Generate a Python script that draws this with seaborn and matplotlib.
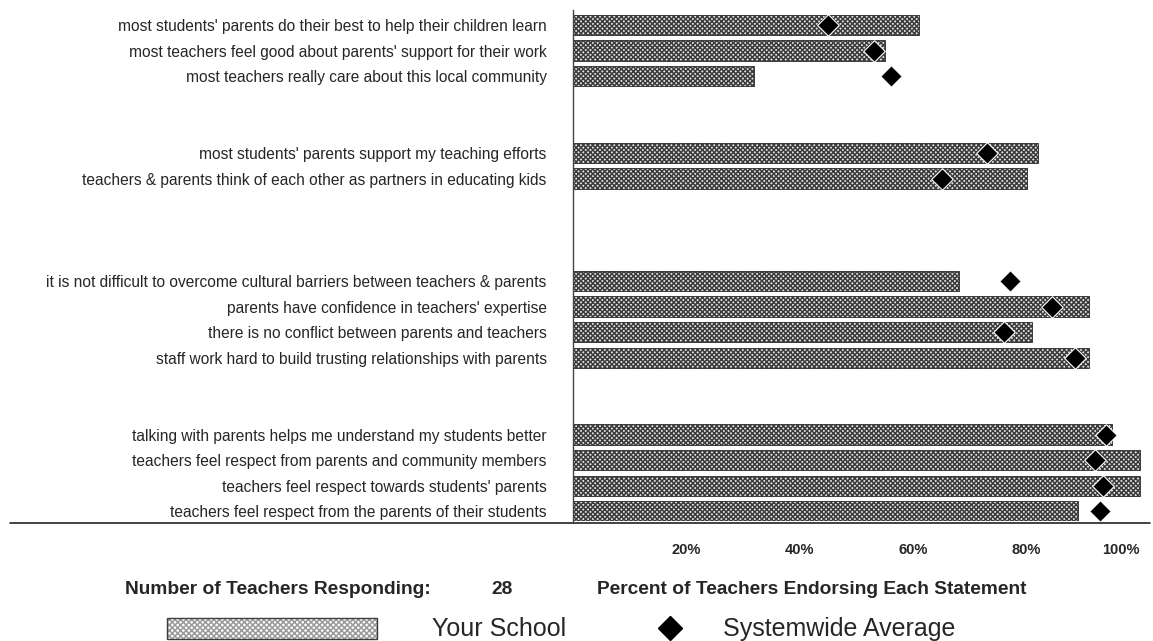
import matplotlib
matplotlib.use('Agg')
import matplotlib.pyplot as plt
from matplotlib.lines import Line2D
from matplotlib.patches import Rectangle
import matplotlib.transforms as mtransforms
import pandas as pd
import seaborn as sns

statements = [
    "most students' parents do their best to help their children learn",
    "most teachers feel good about parents' support for their work",
    "most teachers really care about this local community",
    "most students' parents support my teaching efforts",
    "teachers & parents think of each other as partners in educating kids",
    "it is not difficult to overcome cultural barriers between teachers & parents",
    "parents have confidence in teachers' expertise",
    "there is no conflict between parents and teachers",
    "staff work hard to build trusting relationships with parents",
    "talking with parents helps me understand my students better",
    "teachers feel respect from parents and community members",
    "teachers feel respect towards students' parents",
    "teachers feel respect from the parents of their students",
]
school_pct = [61, 55, 32, 82, 80, 68, 91, 81, 91, 95, 100, 100, 89]
system_pct = [45, 53, 56, 73, 65, 77, 84.5, 76, 88.5, 94, 92, 93.5, 93]
x_ticks = [20, 40, 60, 80, 100]
x_tick_labels = ['20%', '40%', '60%', '80%', '100%']
n_teachers = 28

# row slots (groups separated by blank rows)
slots = [0, 1, 2, 5, 6, 10, 11, 12, 13, 16, 17, 18, 19]

df = pd.DataFrame({'statement': statements, 'school': school_pct,
                   'system': system_pct, 'slot': slots})

sns.set_style('white')
plt.rcParams['font.family'] = ['Liberation Sans', 'DejaVu Sans']
plt.rcParams['hatch.linewidth'] = 1.1

W, H = 1153, 641
fig = plt.figure(figsize=(W / 100, H / 100), dpi=100)
ax = fig.add_axes([573 / W, 1 - 521 / H, (1150 - 573) / W, (521 - 10) / H])

sns.barplot(data=df, x='school', y='slot', orient='h', native_scale=True,
            color='#e6e6e6', width=0.8, ax=ax)
for p in ax.patches:
    p.set_hatch('xxxxxxx')
    p.set_edgecolor('#3c3c3c')
    p.set_linewidth(0.7)

sns.scatterplot(data=df, x='system', y='slot', marker='D', color='black',
                s=120, edgecolor='white', linewidth=0.8, ax=ax, zorder=5)

ax.set_xlim(0, 577 / 5.67)
ax.set_ylim((521 - 25) / 25.6, (10 - 25) / 25.6)
ax.set_yticks(slots)
ax.set_yticklabels(statements, fontsize=11.2)
ax.set_xticks(x_ticks)
ax.set_xticklabels(x_tick_labels, fontsize=10.5, fontweight='bold')
last = ax.get_xticklabels()[-1]
last.set_ha('right')
last.set_transform(last.get_transform() + mtransforms.ScaledTranslation(10 / 100, 0, fig.dpi_scale_trans))
ax.tick_params(axis='y', length=0, pad=19)
ax.tick_params(axis='x', length=0, pad=16)
ax.set_xlabel('')
ax.set_ylabel('')
for s in ['top', 'right', 'bottom']:
    ax.spines[s].set_visible(False)
ax.spines['left'].set_color('#444444')
ax.spines['left'].set_linewidth(1)

# baseline across the whole figure
fig.add_artist(Line2D([10 / W, 1150 / W], [1 - 523 / H, 1 - 523 / H],
                      color='#222222', linewidth=1.2))

bold = dict(fontsize=13.8, fontweight='bold', va='center')
fig.text(125 / W, 1 - 590 / H, 'Number of Teachers Responding:', ha='left', **bold)
fig.text(502 / W, 1 - 590 / H, str(n_teachers), ha='center', **bold)
fig.text(597 / W, 1 - 590 / H, 'Percent of Teachers Endorsing Each Statement', ha='left', **bold)

# legend: lighter hatched swatch with a dark outline
swatch = ((167 / W, 1 - 639 / H), (377 - 167) / W, 21 / H)
fig.add_artist(Rectangle(*swatch, transform=fig.transFigure, facecolor='white',
                         edgecolor='#9a9a9a', hatch='xxxxxx', linewidth=0))
fig.add_artist(Rectangle(*swatch, transform=fig.transFigure, facecolor='none',
                         edgecolor='#3c3c3c', linewidth=1.0))
reg = dict(fontsize=18, va='center', ha='left')
fig.text(432 / W, 1 - 629 / H, 'Your School', **reg)
fig.add_artist(Line2D([670 / W], [1 - 628 / H], marker='D', color='black',
                      markersize=12.5, linestyle='none'))
fig.text(723 / W, 1 - 629 / H, 'Systemwide Average', **reg)

fig.savefig('out.png', dpi=100)
